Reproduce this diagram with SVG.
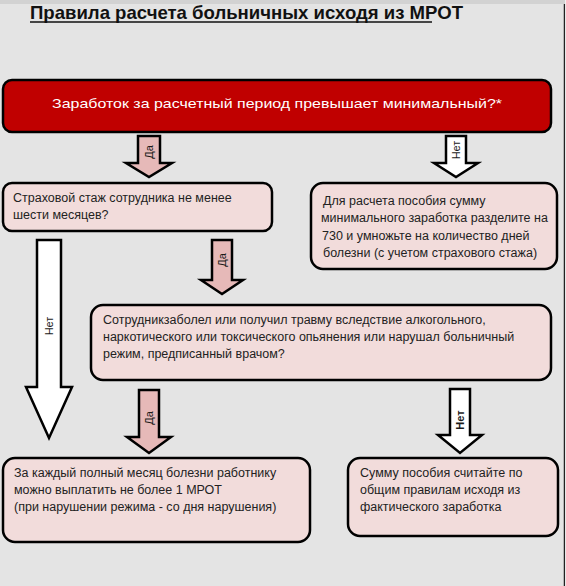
<svg xmlns="http://www.w3.org/2000/svg" width="566" height="586" viewBox="0 0 566 586">
<style>
.box{stroke:#000;stroke-width:2.5}
.red{fill:#c00000}
.pink{fill:#f2dcdb}
.t{font-family:"Liberation Sans",Arial,sans-serif;font-size:12.5px;fill:#222}
.tw{font-family:"Liberation Sans",Arial,sans-serif;font-size:13.5px;fill:#ffffff}
.arr{stroke:#000;stroke-width:2.5;stroke-linejoin:miter}
.ap{fill:#e6b9b8}
.aw{fill:#ffffff}
.al{font-family:"Liberation Sans",Arial,sans-serif;font-size:11px;fill:#1a1a1a}
</style>
<rect x="0" y="0" width="566" height="586" fill="#e4e4e4"/>
<rect x="0" y="0" width="566" height="4" fill="#d2d2d2"/>
<line x1="564.5" y1="4" x2="564.5" y2="586" stroke="#222" stroke-width="1.5"/>
<rect x="565.3" y="0" width="1" height="586" fill="#ffffff"/>
<g id="title">
<text x="30" y="19" font-family="'Liberation Sans',Arial,sans-serif" font-size="19" font-weight="bold" fill="#111" textLength="433" lengthAdjust="spacingAndGlyphs">Правила расчета больничных исходя из МРОТ</text>
<line x1="30" y1="22" x2="432" y2="22" stroke="#111" stroke-width="1.5"/>
</g>
<g id="n1">
<rect class="box red" x="3" y="80" width="548" height="52" rx="9"/>
<text class="tw" x="277" y="108" text-anchor="middle" textLength="450" lengthAdjust="spacingAndGlyphs">Заработок за расчетный период превышает минимальный?*</text>
</g>
<g id="n2">
<rect class="box pink" x="3" y="183" width="269" height="48" rx="9"/>
<text class="t" x="13" y="202">Страховой стаж сотрудника не менее</text>
<text class="t" x="13" y="219">шести месяцев?</text>
</g>
<g id="n3">
<rect class="box pink" x="311" y="183" width="246" height="86" rx="12"/>
<text class="t" x="323" y="205">Для расчета пособия сумму</text>
<text class="t" x="321" y="222">минимального заработка разделите на</text>
<text class="t" x="322" y="240">730 и умножьте на количество дней</text>
<text class="t" x="323" y="257">болезни (с учетом страхового стажа)</text>
</g>
<g id="n4">
<rect class="box pink" x="91" y="305" width="460" height="75" rx="12"/>
<text class="t" x="103" y="324">Сотрудникзаболел или получил травму вследствие алкогольного,</text>
<text class="t" x="103" y="341">наркотического или токсического опьянения или нарушал больничный</text>
<text class="t" x="103" y="358">режим, предписанный врачом?</text>
</g>
<g id="n5">
<rect class="box pink" x="3" y="458" width="307" height="84" rx="12"/>
<text class="t" x="14" y="477">За каждый полный месяц болезни работнику</text>
<text class="t" x="14" y="494">можно выплатить не более 1 МРОТ</text>
<text class="t" x="14" y="511">(при нарушении режима - со дня нарушения)</text>
</g>
<g id="n6">
<rect class="box pink" x="348" y="458" width="210" height="78" rx="12"/>
<text class="t" x="360" y="477">Сумму пособия считайте по</text>
<text class="t" x="360" y="494">общим правилам исходя из</text>
<text class="t" x="360" y="511">фактического заработка</text>
</g>
<g id="connectors">
<polygon class="arr ap" points="138,136 160,136 160,163 172,163 149,177 126,163 138,163"/>
<text class="al" transform="translate(153,152) rotate(-90)" text-anchor="middle">Да</text>
<polygon class="arr aw" points="446,136 466,136 466,163 478,163 456,177 434,163 446,163"/>
<text class="al" transform="translate(460,150) rotate(-90)" text-anchor="middle">Нет</text>
<polygon class="arr ap" points="212,240 232,240 232,280 243,280 222,294 201,280 212,280"/>
<text class="al" transform="translate(226,260) rotate(-90)" text-anchor="middle">Да</text>
<polygon class="arr aw" points="37,240 61,240 61,387 72,387 49,438 26,387 37,387"/>
<text class="al" transform="translate(53,326) rotate(-90)" text-anchor="middle">Нет</text>
<polygon class="arr ap" points="139,390 159,390 159,437 171,437 149,453 127,437 139,437"/>
<text class="al" transform="translate(153,418) rotate(-90)" text-anchor="middle">Да</text>
<polygon class="arr aw" points="450,389 470,389 470,435 482,435 460,453 438,435 450,435"/>
<text class="al" transform="translate(464,420) rotate(-90)" text-anchor="middle" font-weight="bold">Нет</text>
</g>
</svg>
